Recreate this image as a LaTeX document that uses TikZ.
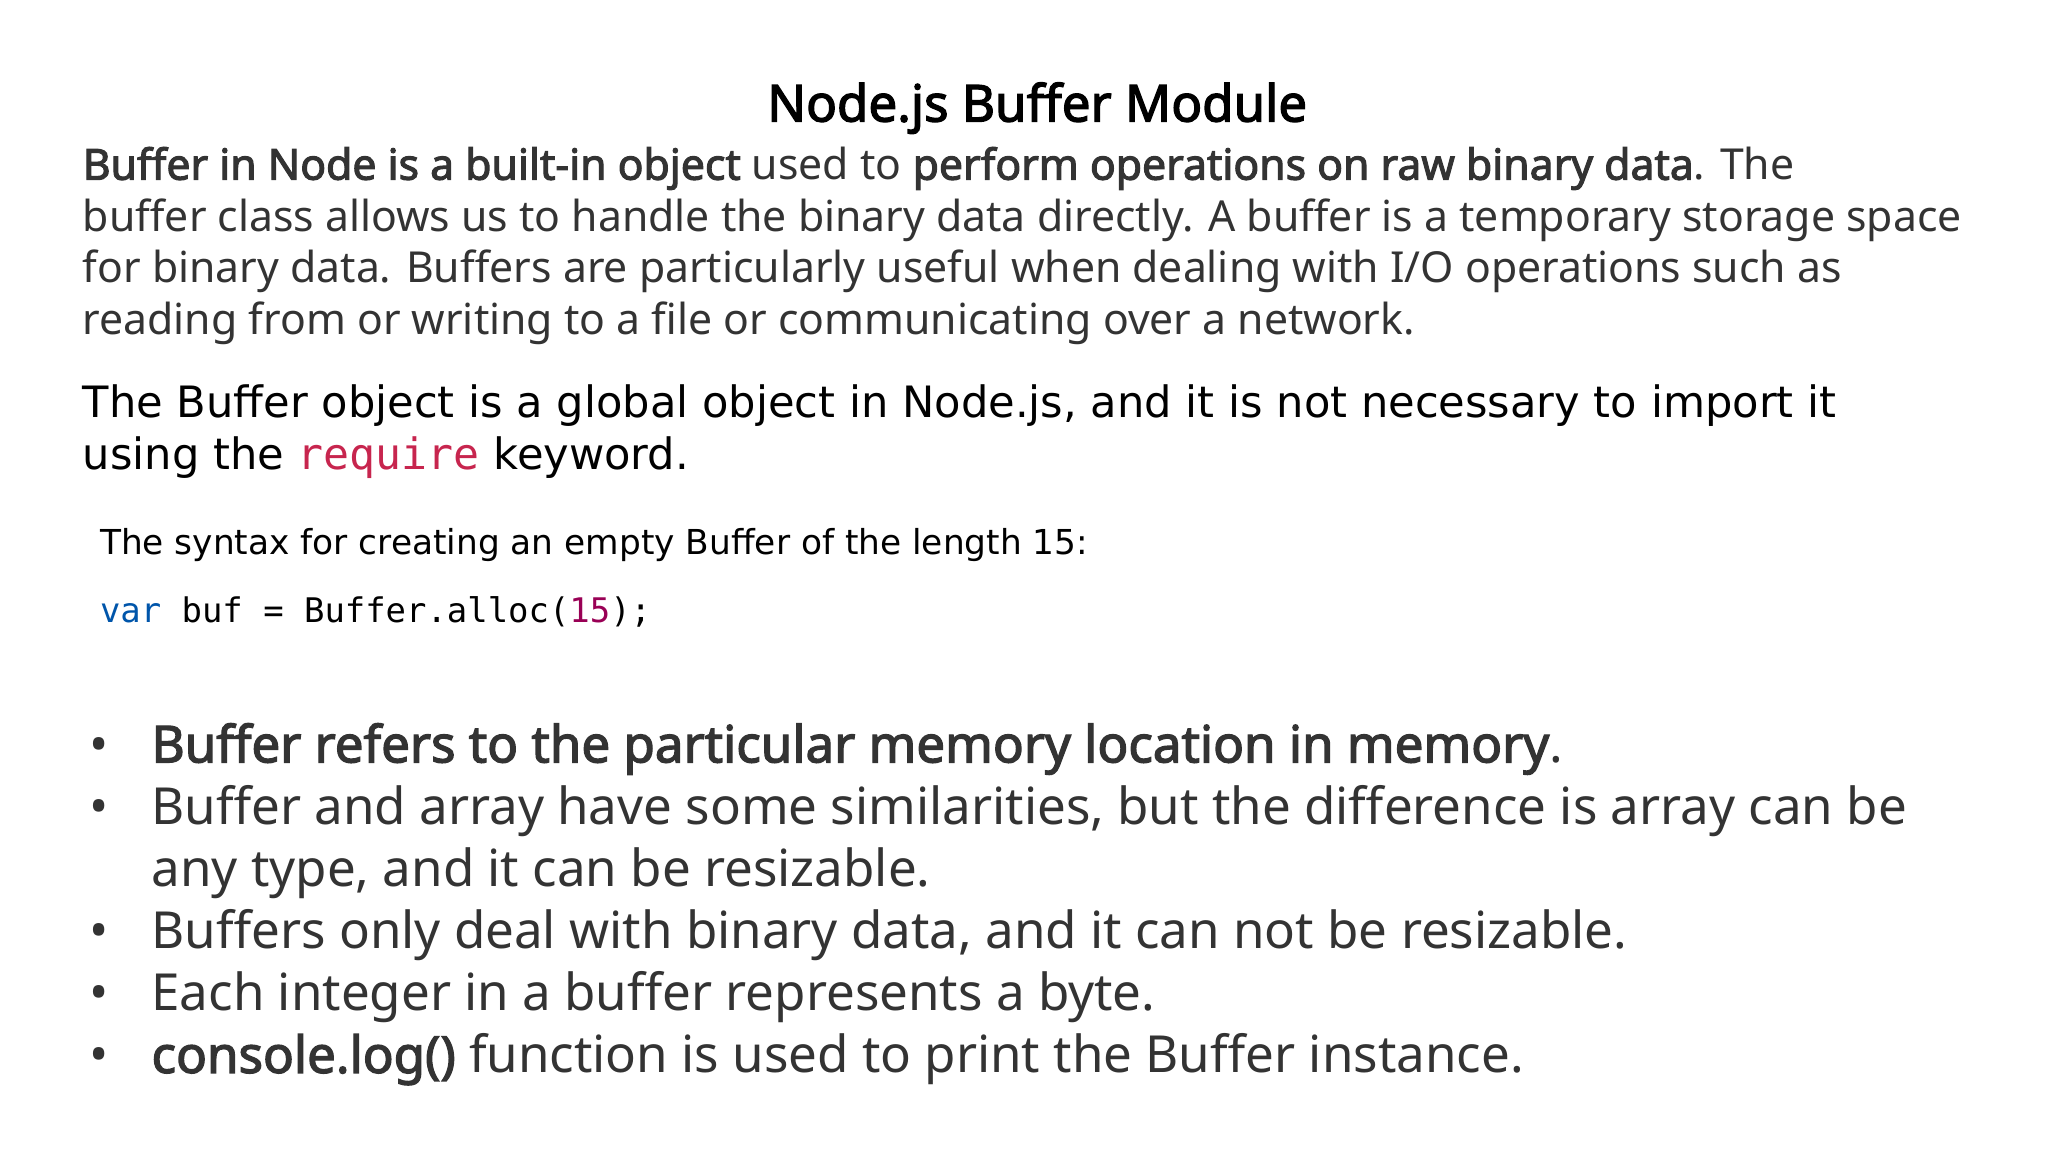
\documentclass[tikz,border=0pt]{standalone}
\usepackage{fontspec}
\setmainfont{Noto Sans}[BoldFont={Noto Sans},BoldFeatures={FakeBold=2.5}]
\newfontfamily\dv{DejaVu Sans}
\newfontfamily\dvm{DejaVu Sans Mono}
\definecolor{txt}{HTML}{333333}
\definecolor{req}{HTML}{C7254E}
\definecolor{kw}{HTML}{0055AA}
\definecolor{num}{HTML}{990055}
\begin{document}
\begin{tikzpicture}[x=0.1mm,y=0.1mm,
  ln/.style={anchor=base west,inner sep=0,text=txt,font=\fontsize{9.2}{11}\selectfont},
  p2/.style={anchor=base west,inner sep=0,text=black,font=\dv\fontsize{9.3}{11}\selectfont},
  bl/.style={anchor=base west,inner sep=0,text=txt,font=\fontsize{11}{14}\selectfont},
  dot/.style={anchor=base,inner sep=0,text=txt,font=\fontsize{11}{14}\selectfont}]
\useasboundingbox (0,0) rectangle (1550,-872);
\node[anchor=base,inner sep=0,font=\bfseries\fontsize{11}{13}\selectfont] (title) at (785,-92) {Node.js Buffer Module};
\node[ln] (a1) at (62,-136) {\textbf{Buffer in Node is a built-in object} used to \textbf{perform operations on raw binary data}. The};
\node[ln] (a2) at (62,-175) {buffer class allows us to handle the binary data directly. A buffer is a temporary storage space};
\node[ln] (a3) at (62,-214) {for binary data. Buffers are particularly useful when dealing with I/O operations such as};
\node[ln] (a4) at (62,-253) {reading from or writing to a file or communicating over a network.};
\node[p2] (b1) at (62,-316) {The Buffer object is a global object in Node.js, and it is not necessary to import it};
\node[p2] (b2) at (62,-355) {using the {\dvm\color{req}require} keyword.};
\node[anchor=base west,inner sep=0,font=\dv\fontsize{7.4}{9}\selectfont] (s) at (75,-420) {The syntax for creating an empty Buffer of the length 15:};
\node[anchor=base west,inner sep=0,font=\dvm\fontsize{7.3}{9}\selectfont] (c) at (75,-471) {{\color{kw}var} buf = Buffer.alloc({\color{num}15});};
\foreach \y/\t [count=\i] in {-577/{\textbf{Buffer refers to the particular memory location in memory}.},
  -624/{Buffer and array have some similarities, but the difference is array can be},
  -718/{Buffers only deal with binary data, and it can not be resizable.},
  -765/{Each integer in a buffer represents a byte.},
  -812/{\textbf{console.log()} function is used to print the Buffer instance.}}
  {\node[dot] (d\i) at (75,\y) {•}; \node[bl] (t\i) at (114,\y) {\t};}
\node[bl] (t2b) at (114,-671) {any type, and it can be resizable.};
\end{tikzpicture}
\end{document}
